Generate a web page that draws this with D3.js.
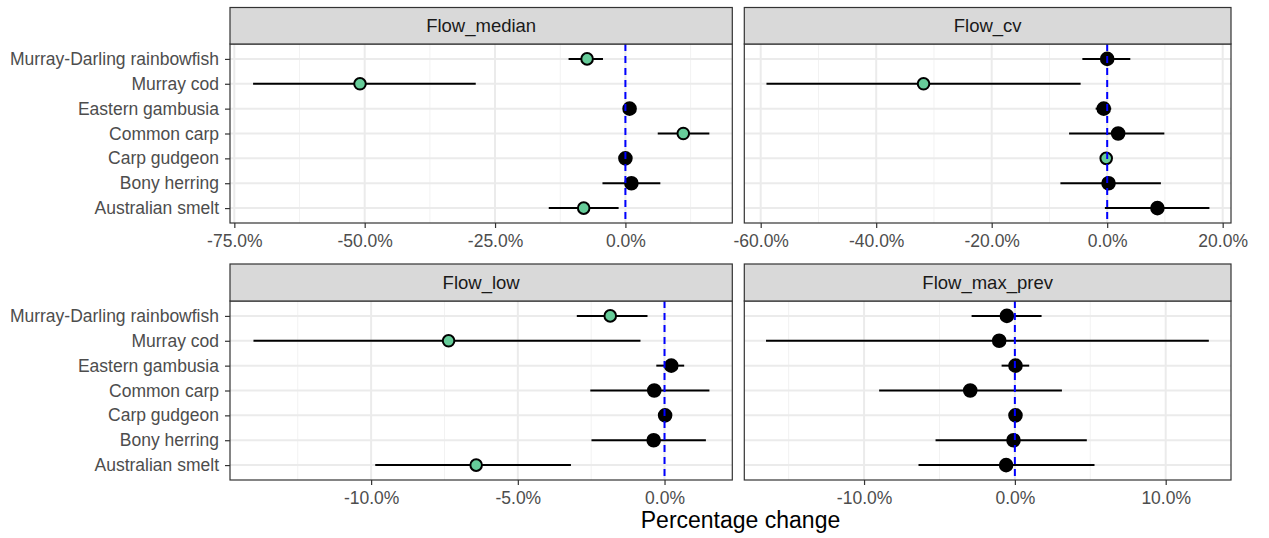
<!DOCTYPE html>
<html>
<head>
<meta charset="utf-8">
<script src="https://cdn.jsdelivr.net/npm/d3@7"></script>
<style>
  body { margin: 0; background: #fff; }
  svg { font-family: "Liberation Sans", Arial, sans-serif; }
</style>
</head>
<body>
<div id="chart"></div>
<script>
// species, top to bottom
const species = ["Murray-Darling rainbowfish", "Murray cod", "Eastern gambusia",
  "Common carp", "Carp gudgeon", "Bony herring", "Australian smelt"];

const facets = ["Flow_median", "Flow_cv", "Flow_low", "Flow_max_prev"];

// estimate, lower, upper (percent) and whether significant (green)
const medianEst = [-7.35, -50.9, 0.8, 11.1, 0.0, 1.15, -8.0];
const medianLo  = [-10.9, -71.4, 0.4, 6.2, -0.3, -4.4, -14.7];
const medianHi  = [-4.3, -28.7, 1.2, 16.1, 0.3, 6.7, -1.3];
const medianSig = [true, true, false, true, false, false, true];

const cvEst = [0.0, -31.8, -0.6, 1.9, -0.17, 0.23, 8.7];
const cvLo  = [-4.3, -59.0, -2.0, -6.6, -0.4, -8.1, -0.4];
const cvHi  = [4.0, -4.6, 0.7, 9.9, 0.1, 9.3, 17.7];
const cvSig = [false, true, false, false, true, false, false];

const lowEst = [-1.85, -7.36, 0.23, -0.35, 0.02, -0.37, -6.42];
const lowLo  = [-2.99, -14.01, -0.28, -2.53, -0.05, -2.49, -9.86];
const lowHi  = [-0.58, -0.82, 0.67, 1.53, 0.08, 1.41, -3.19];
const lowSig = [true, true, false, false, false, false, true];

const maxEst = [-0.53, -1.04, 0.04, -2.96, 0.04, -0.09, -0.58];
const maxLo  = [-2.87, -16.5, -0.88, -9.0, -0.1, -5.26, -6.39];
const maxHi  = [1.77, 12.86, 0.95, 3.12, 0.15, 4.77, 5.28];
const maxSig = [false, false, false, false, false, false, false];

// x domains and tick values per facet
const domains = [[-75.83, 20.5], [-62.84, 21.44], [-14.81, 2.31], [-17.94, 14.33]];
const majorTicks = [[-75, -50, -25, 0], [-60, -40, -20, 0, 20], [-10, -5, 0], [-10, 0, 10]];
const minorTicks = [[-62.5, -37.5, -12.5, 12.5], [-50, -30, -10, 10], [-12.5, -7.5, -2.5], [-15, -5, 5]];

const series = [
  [medianEst, medianLo, medianHi, medianSig],
  [cvEst, cvLo, cvHi, cvSig],
  [lowEst, lowLo, lowHi, lowSig],
  [maxEst, maxLo, maxHi, maxSig]
];

const width = 1269, height = 538;
const svg = d3.select("#chart").append("svg")
  .attr("width", width).attr("height", height);

// panel layout
const cols = [[230, 732.3], [744.3, 1231]];
const rows = [{ strip: 7.5, top: 44, bottom: 223 }, { strip: 264, top: 301, bottom: 480 }];
const green = "#66cc99";
const fmt = d => d.toFixed(1) + "%"; // plain hyphen minus like ggplot

facets.forEach((name, i) => {
  const col = cols[i % 2], row = rows[Math.floor(i / 2)];
  const [est, lo, hi, sig] = series[i];

  const x = d3.scaleLinear().domain(domains[i]).range(col);
  const y = d3.scalePoint().domain(species).range([row.top, row.bottom]).padding(0.6);

  const g = svg.append("g");

  // panel background + grid
  g.append("rect").attr("x", col[0]).attr("y", row.top)
    .attr("width", col[1] - col[0]).attr("height", row.bottom - row.top)
    .attr("fill", "#fff");

  g.selectAll(".minor").data(minorTicks[i]).enter().append("line")
    .attr("x1", d => x(d)).attr("x2", d => x(d))
    .attr("y1", row.top).attr("y2", row.bottom)
    .attr("stroke", "#f2f2f2").attr("stroke-width", 1);

  g.selectAll(".major").data(majorTicks[i]).enter().append("line")
    .attr("x1", d => x(d)).attr("x2", d => x(d))
    .attr("y1", row.top).attr("y2", row.bottom)
    .attr("stroke", "#ebebeb").attr("stroke-width", 2);

  g.selectAll(".hgrid").data(species).enter().append("line")
    .attr("x1", col[0]).attr("x2", col[1])
    .attr("y1", d => y(d)).attr("y2", d => y(d))
    .attr("stroke", "#ebebeb").attr("stroke-width", 2);

  // error bars
  g.selectAll(".ci").data(species).enter().append("line")
    .attr("x1", (d, j) => x(lo[j])).attr("x2", (d, j) => x(hi[j]))
    .attr("y1", d => y(d)).attr("y2", d => y(d))
    .attr("stroke", "#000").attr("stroke-width", 2);

  // points
  g.selectAll(".pt").data(species).enter().append("circle")
    .attr("cx", (d, j) => x(est[j])).attr("cy", d => y(d))
    .attr("r", (d, j) => sig[j] ? 5.8 : 6.3)
    .attr("fill", (d, j) => sig[j] ? green : "#000")
    .attr("stroke", "#000").attr("stroke-width", 2);

  // zero line on top
  g.append("line")
    .attr("x1", x(0)).attr("x2", x(0))
    .attr("y1", row.top).attr("y2", row.bottom)
    .attr("stroke", "#0000ff").attr("stroke-width", 2)
    .attr("stroke-dasharray", "7,5");

  // panel border
  g.append("rect").attr("x", col[0]).attr("y", row.top)
    .attr("width", col[1] - col[0]).attr("height", row.bottom - row.top)
    .attr("fill", "none").attr("stroke", "#333").attr("stroke-width", 1.2);

  // strip
  g.append("rect").attr("x", col[0]).attr("y", row.strip)
    .attr("width", col[1] - col[0]).attr("height", row.top - row.strip)
    .attr("fill", "#d9d9d9").attr("stroke", "#333").attr("stroke-width", 1.2);
  g.append("text")
    .attr("x", (col[0] + col[1]) / 2).attr("y", (row.strip + row.top) / 2)
    .attr("dy", "0.36em").attr("text-anchor", "middle")
    .attr("font-size", 18.5).attr("fill", "#1a1a1a").text(name);

  // x axis
  const xa = g.append("g").attr("transform", `translate(0,${row.bottom})`)
    .call(d3.axisBottom(x).tickValues(majorTicks[i]).tickFormat(fmt).tickSizeOuter(0).tickSize(5).tickPadding(7));
  xa.select(".domain").remove();
  xa.selectAll(".tick line").attr("stroke", "#333").attr("stroke-width", 1.2);
  xa.selectAll(".tick text").attr("font-size", 17.5).attr("fill", "#4d4d4d")
    .attr("font-family", "Liberation Sans, Arial, sans-serif");

  // y axis only on left column
  if (i % 2 === 0) {
    const ya = g.append("g").attr("transform", `translate(${col[0]},0)`)
      .call(d3.axisLeft(y).tickSize(5).tickPadding(6));
    ya.select(".domain").remove();
    ya.selectAll(".tick line").attr("stroke", "#333").attr("stroke-width", 1.2);
    ya.selectAll(".tick text").attr("font-size", 17.5).attr("fill", "#4d4d4d")
      .attr("font-family", "Liberation Sans, Arial, sans-serif");
  }
});

// x axis title
svg.append("text")
  .attr("x", (cols[0][0] + cols[1][1]) / 2 + 10).attr("y", 528)
  .attr("text-anchor", "middle").attr("font-size", 23).attr("fill", "#000")
  .text("Percentage change");
</script>
</body>
</html>
